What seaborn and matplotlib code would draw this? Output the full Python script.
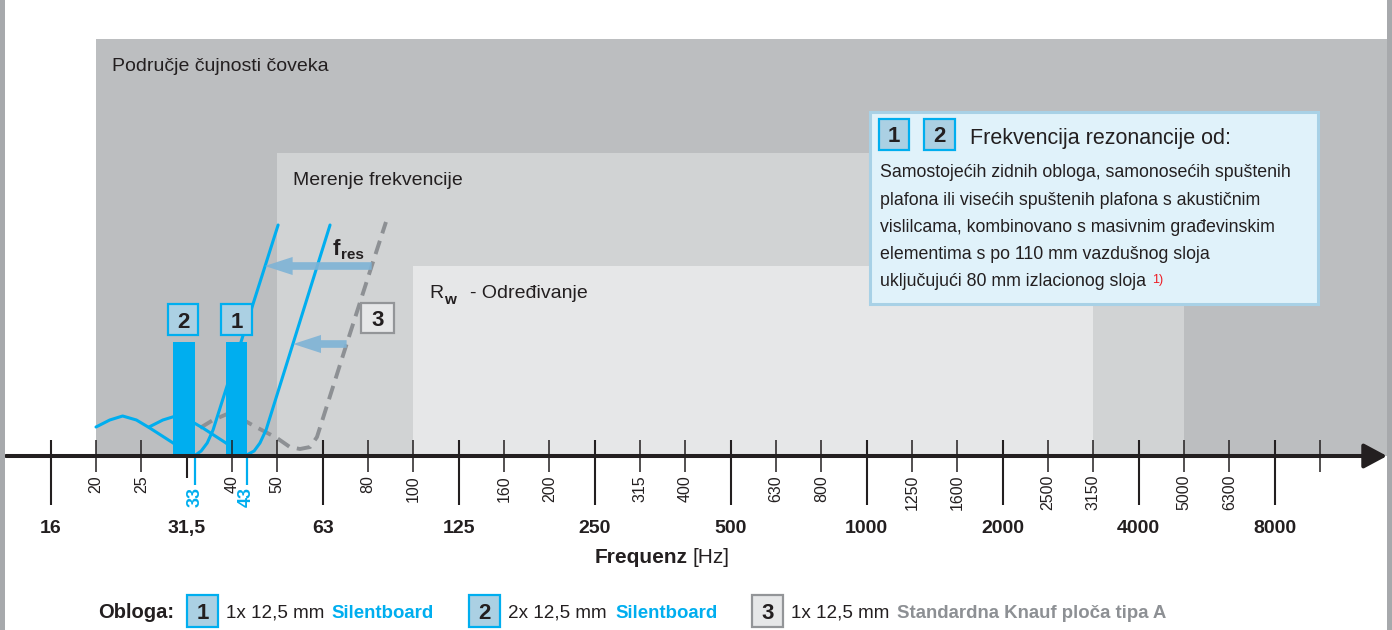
import numpy as np
import matplotlib
matplotlib.use("Agg")
import matplotlib.pyplot as plt
from matplotlib.patches import Rectangle
from matplotlib.text import Annotation
import seaborn as sns

W, H = 1392, 630
DARK = "#231f20"
BLUE = "#00aeef"
GRAY = "#8d9094"

# nominal third-octave bands, used as the x scale grid
BANDS = [10, 12.5, 16, 20, 25, 31.5, 40, 50, 63, 80, 100, 125, 160, 200, 250,
         315, 400, 500, 630, 800, 1000, 1250, 1600, 2000, 2500, 3150, 4000,
         5000, 6300, 8000, 10000, 12500, 16000, 20000]

MAJOR_TICKS = [16, 31.5, 63, 125, 250, 500, 1000, 2000, 4000, 8000]
MAJOR_LABELS = ["16", "31,5", "63", "125", "250", "500", "1000", "2000", "4000", "8000"]
MINOR_TICKS = [20, 25, 40, 50, 80, 100, 160, 200, 315, 400, 630, 800,
               1250, 1600, 2500, 3150, 5000, 6300, 10000]
MINOR_LABELS = ["20", "25", "40", "50", "80", "100", "160", "200", "315", "400",
                "630", "800", "1250", "1600", "2500", "3150", "5000", "6300", ""]

# frequency ranges
RANGE_NAMES = ["Područje čujnosti čoveka", "Merenje frekvencije", "R"]
RANGE_LO = [20, 50, 100]
RANGE_HI = [20000, 5000, 3150]
RANGE_TOP = [417, 303, 190]
RANGE_COLORS = ["#bcbec0", "#d1d3d4", "#e6e7e8"]

# schematic insulation curves: board 1, board 2 (Silentboard), board 3 (standard)
C1_HZ = [26.0, 27.9, 29.8, 31.9, 34.3, 38.75, 40.8, 41.8, 43.0, 44.6, 45.9, 47.3, 65.5]
C1_LVL = [29, 36, 40, 36, 28, 13, 5, 2, 1, 5, 13, 26, 231]
C2_HZ = [20.0, 21.4, 22.8, 24.4, 26.1, 29.4, 30.9, 31.9, 33.0, 34.0, 35.1, 36.2, 50.2]
C2_LVL = [29, 36, 40, 36, 28, 13, 5, 2, 1, 5, 13, 26, 231]
C3_HZ = [33.8, 36.2, 39.0, 41.6, 44.6, 49.9, 53.3, 56.1, 59.1, 61.2, 71.6, 81.6, 87.4]
C3_LVL = [28, 36, 42, 38, 30, 18, 9, 7, 9, 19, 113, 191, 234]

# resonance frequencies (boards 2 and 1) and the band bars ending there
RES_HZ = [33, 43]
RES_LABELS = ["33", "43"]
BAR_LO = [29.4, 38.75]
BAR_TOP = 114

# f_res arrows: levels
ARROW_LVL = [190, 112]

BOX_TITLE = "Frekvencija rezonancije od:"
BOX_LINES = ["Samostojećih zidnih obloga, samonosećih spuštenih",
             "plafona ili visećih spuštenih plafona s akustičnim",
             "vislilcama, kombinovano s masivnim građevinskim",
             "elementima s po 110 mm vazdušnog sloja",
             "uključujući 80 mm izlacionog sloja"]

LEG_NUMS = ["1", "2", "3"]
LEG_DESC = ["1x 12,5 mm", "2x 12,5 mm", "1x 12,5 mm"]
LEG_NAMES = ["Silentboard", "Silentboard", "Standardna Knauf ploča tipa A"]

sns.set_theme(style="white")
plt.rcParams["font.family"] = ["Liberation Sans", "DejaVu Sans"]

_idx = np.arange(len(BANDS))
_logb = np.log(BANDS)


def fwd(f):
    f = np.clip(np.asarray(f, float), 1e-6, None)
    return np.interp(np.log(f), _logb, _idx)


def inv(i):
    return np.exp(np.interp(np.asarray(i, float), _idx, _logb))


def fig_xy(x, y):
    return x / W, 1 - y / H


fig = plt.figure(figsize=(W / 100, H / 100), dpi=100)
ax = fig.add_axes([0, 0, 1, 1])
ax.set_xscale("function", functions=(fwd, inv))
ax.set_xlim(inv(0.882), inv(31.59))
ax.set_ylim(-174, 456)
ax.axis("off")

# frequency ranges
for name, lo, hi, top, col in zip(RANGE_NAMES, RANGE_LO, RANGE_HI, RANGE_TOP, RANGE_COLORS):
    ax.fill_between([lo, hi], 0, top, color=col, lw=0, zorder=0)
    ax.annotate(name, xy=(lo, top), xytext=(16, -32), textcoords="offset pixels",
                va="baseline", ha="left", fontsize=14, color=DARK)
ax.annotate("w", xy=(RANGE_LO[2], RANGE_TOP[2]), xytext=(31, -38), textcoords="offset pixels",
            va="baseline", fontsize=11, fontweight="bold", color=DARK)
ax.annotate("- Određivanje", xy=(RANGE_LO[2], RANGE_TOP[2]), xytext=(57, -32),
            textcoords="offset pixels", va="baseline", fontsize=14, color=DARK)

# curves
sns.lineplot(x=C3_HZ, y=C3_LVL, ax=ax, color=GRAY, lw=2.8, sort=False, zorder=2)
ax.lines[-1].set_linestyle((0, (3.6, 2.0)))
sns.lineplot(x=C2_HZ, y=C2_LVL, ax=ax, color=BLUE, lw=2.2, sort=False, zorder=2)
sns.lineplot(x=C1_HZ, y=C1_LVL, ax=ax, color=BLUE, lw=2.2, sort=False, zorder=2)

# f_res arrows from curve 3 to curves 2 and 1 (rising parts)
for lvl, (hz, lv) in zip(ARROW_LVL, [(C2_HZ, C2_LVL), (C1_HZ, C1_LVL)]):
    x0 = np.exp(np.interp(lvl, C3_LVL[-4:], np.log(C3_HZ[-4:])))
    x1 = np.exp(np.interp(lvl, lv[-2:], np.log(hz[-2:])))
    ax.annotate("", xy=(x1, lvl), xytext=(x0, lvl),
                arrowprops=dict(arrowstyle="simple,head_length=2.0,head_width=1.3,tail_width=0.55",
                                fc="#7eb3d6", ec="none", alpha=0.9, shrinkA=0, shrinkB=0,
                                mutation_scale=10), zorder=2.5)

# resonance bars
ax.bar(BAR_LO, BAR_TOP, width=np.array(RES_HZ) - np.array(BAR_LO), align="edge",
       color=BLUE, lw=0, zorder=3)

# ticks and labels
ax.vlines(MINOR_TICKS, -16, 16, color=DARK, lw=1.1, zorder=4)
for f, lab in zip(MINOR_TICKS, MINOR_LABELS):
    ax.text(f, -19, lab, rotation=90, ha="center", va="top", fontsize=11.5, color=DARK)
for f, lab in zip(MAJOR_TICKS, MAJOR_LABELS):
    lo, hi = (-22, -1) if lab == "31,5" else (-49, 16)
    ax.vlines(f, lo, hi, color=DARK, lw=1.5, zorder=4)
    ax.text(f, -77, lab, ha="center", va="baseline", fontsize=14, fontweight="bold", color=DARK)
ax.vlines(RES_HZ, -29, 0, color=BLUE, lw=1.6, zorder=4)
for f, lab in zip(RES_HZ, RES_LABELS):
    ax.text(f, -31, lab, rotation=90, ha="center", va="top", fontsize=13,
            fontweight="bold", color=BLUE)

# axis arrow
ax.annotate("", xy=(1387 / W, 0), xytext=(6 / W, 0),
            xycoords=("axes fraction", "data"), textcoords=("axes fraction", "data"),
            arrowprops=dict(arrowstyle="-|>,head_length=1.4,head_width=0.75", color=DARK,
                            lw=2.9, shrinkA=0, shrinkB=0, mutation_scale=10), zorder=5)

fig.text(*fig_xy(688, 563), "Frequenz", ha="right", va="baseline", fontsize=15,
         fontweight="bold", color=DARK)
fig.text(*fig_xy(692, 563), "[Hz]", ha="left", va="baseline", fontsize=15, color=DARK)

# f_res label
fig.text(*fig_xy(333, 255), "f", ha="left", va="baseline", fontsize=16, fontweight="bold", color=DARK)
fig.text(*fig_xy(341, 259), "res", ha="left", va="baseline", fontsize=11, fontweight="bold", color=DARK)


def num_box(x, y, w, h, label, face, edge, size=16):
    fig.patches.append(Rectangle((x / W, 1 - (y + h) / H), w / W, h / H, transform=fig.transFigure,
                                 fc=face, ec=edge, lw=1.6, zorder=6))
    fig.text((x + w / 2) / W, 1 - (y + h / 2 + 8) / H, label, ha="center", va="baseline",
             fontsize=size, fontweight="bold", color=DARK, zorder=7)


BOX12 = ("#abd0e3", BLUE)
BOX3 = ("#e6e7e8", "#939598")
num_box(168, 304, 30, 31, "2", *BOX12)
num_box(221, 304, 31, 31, "1", *BOX12)
num_box(361, 303, 33, 30, "3", *BOX3)

# info box
fig.patches.append(Rectangle((870 / W, 1 - 304 / H), 448 / W, 192 / H, transform=fig.transFigure,
                             fc="#e0f2fa", ec="#a8d1e6", lw=2.2, zorder=5))
num_box(879, 119, 30, 31, "1", *BOX12)
num_box(924, 119, 31, 31, "2", *BOX12)
fig.text(*fig_xy(970, 144), BOX_TITLE, ha="left", va="baseline", fontsize=15.5, color=DARK, zorder=7)
last = None
for i, line in enumerate(BOX_LINES):
    last = fig.text(*fig_xy(880, 177.3 + i * 27.3), line, ha="left", va="baseline",
                    fontsize=12.8, color=DARK, zorder=7)
note = Annotation("1)", xy=(1, 1), xycoords=last, xytext=(6, -1), textcoords="offset pixels",
                  ha="left", va="top", fontsize=9, color="#ed1c24")
note.set_zorder(7)
fig.add_artist(note)

# legend row
fig.text(*fig_xy(98, 618), "Obloga:", ha="left", va="baseline", fontsize=14.5,
         fontweight="bold", color=DARK)
leg_box_x = [187, 469, 752]
leg_desc_x = [226, 508, 791]
leg_name_x = [331, 615, 897]
for i in range(3):
    face, edge = BOX3 if i == 2 else BOX12
    num_box(leg_box_x[i], 595, 31, 32, LEG_NUMS[i], face, edge, size=16)
    fig.text(*fig_xy(leg_desc_x[i], 618), LEG_DESC[i], ha="left", va="baseline",
             fontsize=13.6, color=DARK)
    fig.text(*fig_xy(leg_name_x[i], 618), LEG_NAMES[i], ha="left", va="baseline",
             fontsize=13.4, fontweight="bold", color=GRAY if i == 2 else BLUE)

# page borders
for x0 in (0, 1387):
    fig.patches.append(Rectangle((x0 / W, 0), 5 / W, 1, transform=fig.transFigure,
                                 fc="#a7a9ac", ec="none", zorder=8))

fig.savefig("out.png", dpi=100)
